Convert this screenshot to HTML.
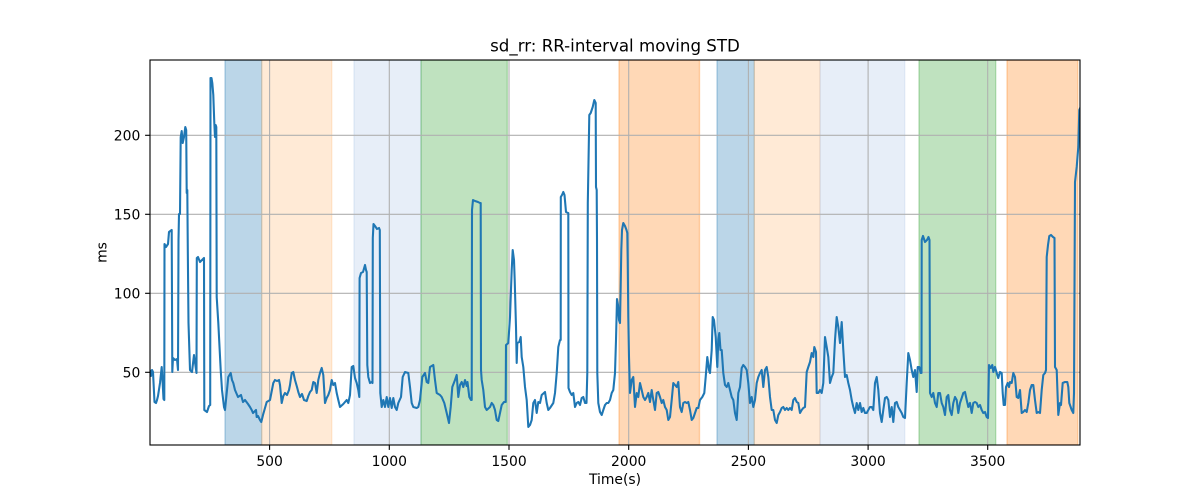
<!DOCTYPE html>
<html><head><meta charset="utf-8"><style>
html,body{margin:0;padding:0;background:#fff;}
svg{display:block;}
text{font-family:"DejaVu Sans","Liberation Sans",sans-serif;fill:#000;}
</style></head><body>
<svg width="1200" height="500" viewBox="0 0 1200 500" xmlns="http://www.w3.org/2000/svg">
<rect x="0" y="0" width="1200" height="500" fill="#fff"/>
<defs><clipPath id="ax"><rect x="150" y="60" width="930" height="385"/></clipPath></defs>
<g clip-path="url(#ax)" stroke-width="1.39">
<rect x="225" y="60" width="36.7" height="385" fill="#1f77b4" fill-opacity="0.3" stroke="#1f77b4" stroke-opacity="0.3"/>
<rect x="261.7" y="60" width="70" height="385" fill="#ffbb78" fill-opacity="0.3" stroke="#ffbb78" stroke-opacity="0.3"/>
<rect x="354" y="60" width="67" height="385" fill="#aec7e8" fill-opacity="0.3" stroke="#aec7e8" stroke-opacity="0.3"/>
<rect x="421" y="60" width="86.3" height="385" fill="#2ca02c" fill-opacity="0.3" stroke="#2ca02c" stroke-opacity="0.3"/>
<rect x="619" y="60" width="80.5" height="385" fill="#ff7f0e" fill-opacity="0.3" stroke="#ff7f0e" stroke-opacity="0.3"/>
<rect x="717" y="60" width="37.3" height="385" fill="#1f77b4" fill-opacity="0.3" stroke="#1f77b4" stroke-opacity="0.3"/>
<rect x="754.3" y="60" width="65.7" height="385" fill="#ffbb78" fill-opacity="0.3" stroke="#ffbb78" stroke-opacity="0.3"/>
<rect x="820" y="60" width="84.7" height="385" fill="#aec7e8" fill-opacity="0.3" stroke="#aec7e8" stroke-opacity="0.3"/>
<rect x="919" y="60" width="76.7" height="385" fill="#2ca02c" fill-opacity="0.3" stroke="#2ca02c" stroke-opacity="0.3"/>
<rect x="1007" y="60" width="70.8" height="385" fill="#ff7f0e" fill-opacity="0.3" stroke="#ff7f0e" stroke-opacity="0.3"/>
</g>
<g stroke="#b0b0b0" stroke-width="1.11">
<line x1="269.6" y1="60" x2="269.6" y2="445"/>
<line x1="389.3" y1="60" x2="389.3" y2="445"/>
<line x1="509" y1="60" x2="509" y2="445"/>
<line x1="628.7" y1="60" x2="628.7" y2="445"/>
<line x1="748.4" y1="60" x2="748.4" y2="445"/>
<line x1="868.1" y1="60" x2="868.1" y2="445"/>
<line x1="987.7" y1="60" x2="987.7" y2="445"/>
<line x1="150" y1="372.3" x2="1080" y2="372.3"/>
<line x1="150" y1="293.3" x2="1080" y2="293.3"/>
<line x1="150" y1="214.3" x2="1080" y2="214.3"/>
<line x1="150" y1="135.3" x2="1080" y2="135.3"/>
</g>
<g clip-path="url(#ax)">
<polyline fill="none" stroke="#1f77b4" stroke-width="2.08" stroke-linejoin="round" stroke-linecap="square" points="
150,371 151,376 152,370 153,372 154.5,402 156,403 157,400 158,396 160,383 161.7,367 162.5,380 163.5,399 164.3,400 164.5,244 166,247 168,244 169,232 171.7,230 172.3,372 173,358 175,360 177,359 178,370 178.5,240 179,214 180,214 180.7,137 181.7,131 182.7,143 184,137 185.3,127 186.2,130 186.7,193 187.3,190 187.8,250 188.5,323 190,370 192,372 194,355 196.5,373 196.8,258 198,257 200,262 203,259 204,258 204.3,410 207,412 209,406 210.2,405 210.5,78 211.5,78 212.3,83 213.3,95 214.3,123 215,137 215.7,125 216.3,127 216.7,297 218.3,323 220.7,370 222,390 224,407 225,410 226,400 228.3,377 230.7,373 232,380 233.3,383 235,390 238,397 241,395 243,402 245,400 248,404 250,407 251.7,410 253,413 256,410 256.7,417 258,416 260,420 261.3,422 263,415 266.7,402 270,400 273.3,383 275,380 277,381 279,380 280,385 281.7,403 283.3,396 285,393 287,395 289,390 290,385 291.7,373 293.3,372 295,380 297,387 298.3,392 300,397 302,394 304,400 306.7,401 308.3,396 310,392 311.7,390 313.3,382 315,383 316.7,393 318.3,380 320,373 321.7,368 323.3,375 325,403 326.7,398 328.3,395 330,390 331.7,380 333.3,385 335,383 336.7,393 338.3,400 340,407 343.3,404 346.7,400 348.3,403 350,395 351.7,367 353.3,366 355,378 356.7,383 358.3,390 359.3,397 359.6,278 361,273 363,272 365,265 366,270 366.7,272 367.3,365 368.3,377 370,383 371.7,382 372.5,383 372.8,238 373.5,224 375,226 377,229 379,228 379.8,230 380.3,393 381.7,407 383.3,400 385,407 386.7,397 388.3,407 390,398 391.7,408 393.3,398 395,407 396.7,410 398.3,403 401,397 402.7,377 405,372 408.3,373 410,387 411.7,403 413.3,407 416.7,408 418.3,407 420,400 422.3,377 425,373 426.7,382 428.3,383 430,367 433.3,365 435,380 436.7,393 440,395 441.7,397 444.3,403 446.7,413 449,423 450.7,407 452.3,387 455,380 456.7,375 458.3,397 460,385 461.7,382 463.3,387 465,380 466.7,386 467.5,382 469.3,397 471,400 471.7,400 472,210 473,200 475,201 478,202 480,203 480.7,203 481,370 481.7,380 483.3,390 485,407 486.7,410 490,407 491.7,403 493.3,405 495,410 496.7,420 498.3,421 500,413 501.7,405 504,402 505.7,402 506,345 508.3,343 510,317 511.7,270 512.7,250 514,260 514.7,280 516,327 516.7,363 517.3,343 519.3,342 520.7,337 521.7,357 523.3,367 525,387 526.7,400 528.3,427 530,425 531.7,420 533.3,403 535,400 536.7,413 538.3,402 540,403 541.7,395 545,392 546.7,403 548.3,410 550,408 553.3,403 555,393 556.7,373 558.3,347 560,340 560.7,340 560.8,197 562,195 563.3,192 564.5,195 566,212 568,213 568.3,213 568.5,388 570,392 571.7,395 573.3,393 575,407 576.7,403 578.3,402 580,405 581.7,398 583.3,397 585,403 586.5,403 587.3,373 587.8,203 589.3,115 590.7,113 592.7,107 594.3,100 595.7,103 596,187 596.7,190 597,240 597.3,373 598.3,403 600,412 601.7,415 603.3,410 605,405 606.7,403 608.3,403 610,400 611.7,393 613.3,390 615,373 616,340 617,299 618,305 619,320 620,323 620.7,285 621.3,250 622,230 623.3,223 625,226 626.5,230 627.3,233 627.7,260 628.3,317 629,357 630,393 631.7,380 633.3,377 635,407 636.7,393 638.3,397 640,383 641.7,390 643.3,397 645,400 646.7,397 648.3,393 650,402 651.7,390 653.3,400 655,410 656.7,393 658.3,392 660,397 661.7,403 663.3,400 665,407 666.7,410 668.3,420 670,417 671.7,400 673.3,383 675,385 676.7,387 678.3,382 680,407 681.7,412 683.3,403 685,402 686.7,403 688.3,402 690,410 691.7,420 693.3,418 695,413 696.7,408 698.3,408 700,400 702.3,397 704.3,393 705.7,377 707.3,357 709,370 710,373 711.7,350 712.7,317 714,320 715.7,337 717.3,367 718.3,340 719.3,333 720.5,350 721.7,350 723.3,373 725,385 726.7,387 728.3,383 730,390 731.7,397 733.3,400 735,413 736.7,420 738.3,393 740,387 741.7,368 743.3,365 745,367 746.7,370 748.3,383 750,403 751.7,397 753.3,407 755,400 756.7,383 758.3,377 760,373 761.7,370 763.3,387 765,370 766.7,367 768.3,377 770,397 771.7,410 773.3,410 775,420 776.7,423 778.3,415 780,412 781.7,408 783.3,407 785,410 786.7,408 788.3,410 790,408 791.7,410 793.3,400 795,398 796.7,402 798.3,403 800,413 801.7,410 803.3,408 805,407 806.7,372 808.3,367 810,362 811.7,353 813.3,357 814.3,347 816,352 816.7,393 818.3,393 820,390 821.7,393 823.3,383 825,337 826.7,347 828.3,357 830,383 831.7,377 833.3,373 835,340 836.7,317 838.3,327 840,343 841.7,322 843.3,350 845,377 846.7,375 848.3,383 850,390 851.7,400 853.3,407 855,413 856.7,403 858.3,410 860,403 861.7,412 863.3,408 865,413 866.7,413 868.3,410 870,407 871.7,407 873.3,410 875,383 876.7,377 878.3,390 880,413 881.7,422 883.3,410 885,398 886.7,397 888.3,400 890,417 891.7,407 893.3,422 895,403 896.7,402 898.3,407 900,410 901.7,413 903.3,417 905,418 906.7,383 908.3,353 910,360 911.7,370 913.3,377 915,370 916.7,392 917.7,367 919.3,367 920.7,373 921.5,373 921.7,240 923,236 925,242 927,240 928.5,237 929.5,240 930,393 931.7,397 933.3,393 935,403 936.7,407 938.3,393 940,393 941.7,403 943.3,407 945,415 946.7,397 948.3,395 950,410 951.7,415 953.3,403 955,397 956.7,400 958.3,413 960,403 961.7,398 963.3,393 965,392 966.7,400 968.3,407 970,403 971.7,413 973.3,403 975,402 976.7,403 978.3,407 980,405 981.7,410 983.3,413 985,412 986.7,417 988,418 989,365 990.7,368 992.3,365 993.3,372 995,367 996.7,373 998.3,378 1000,372 1001.7,373 1002.7,393 1003.7,405 1005,405 1006,387 1007.7,383 1009,387 1010,382 1011.7,383 1013.3,373 1015,377 1016.7,397 1018.3,398 1020,390 1021.7,413 1023.3,412 1025,410 1026.7,412 1028.3,403 1030,390 1031.7,385 1033.3,385 1035,400 1036.7,413 1038.3,412 1040,413 1041.7,390 1043.3,375 1045,373 1046,370 1046.7,257 1048,245 1049.3,236 1051,235 1053,237 1054.5,238 1055,367 1056.7,370 1058.3,415 1060,403 1061,405 1062.7,383 1065,382 1067.3,382 1068.3,387 1069.3,403 1071.7,410 1073.3,413 1074,393 1075,182 1076.7,167 1078.3,147 1079.3,110 1081,106"/>
</g>
<rect x="150" y="60" width="930" height="385" fill="none" stroke="#000" stroke-width="1.11"/>
<g stroke="#000" stroke-width="1.11">
<line x1="269.6" y1="445" x2="269.6" y2="449.9"/>
<line x1="389.3" y1="445" x2="389.3" y2="449.9"/>
<line x1="509" y1="445" x2="509" y2="449.9"/>
<line x1="628.7" y1="445" x2="628.7" y2="449.9"/>
<line x1="748.4" y1="445" x2="748.4" y2="449.9"/>
<line x1="868.1" y1="445" x2="868.1" y2="449.9"/>
<line x1="987.7" y1="445" x2="987.7" y2="449.9"/>
<line x1="145.1" y1="372.3" x2="150" y2="372.3"/>
<line x1="145.1" y1="293.3" x2="150" y2="293.3"/>
<line x1="145.1" y1="214.3" x2="150" y2="214.3"/>
<line x1="145.1" y1="135.3" x2="150" y2="135.3"/>
</g>
<g font-size="13.9" text-anchor="middle">
<text x="269.6" y="466">500</text>
<text x="389.3" y="466">1000</text>
<text x="509" y="466">1500</text>
<text x="628.7" y="466">2000</text>
<text x="748.4" y="466">2500</text>
<text x="868.1" y="466">3000</text>
<text x="987.7" y="466">3500</text>
</g>
<g font-size="13.9" text-anchor="end">
<text x="140.3" y="377.3">50</text>
<text x="140.3" y="298.3">100</text>
<text x="140.3" y="219.3">150</text>
<text x="140.3" y="140.3">200</text>
</g>
<text x="615" y="484" font-size="13.9" text-anchor="middle">Time(s)</text>
<text transform="translate(106.3,252.5) rotate(-90)" font-size="13.9" text-anchor="middle">ms</text>
<text x="615" y="51.7" font-size="16.67" text-anchor="middle">sd_rr: RR-interval moving STD</text>
</svg>
</body></html>
